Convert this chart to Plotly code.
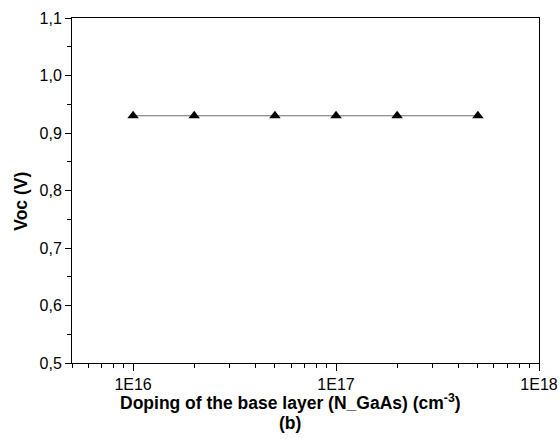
import plotly.graph_objects as go

doping = [1e16, 2e16, 5e16, 1e17, 2e17, 5e17]
voc = [0.93, 0.93, 0.93, 0.93, 0.93, 0.93]

x_tickvals = [1e16, 1e17, 1e18]
x_ticktext = ["1E16", "1E17", "1E18"]
y_tickvals = [0.5, 0.6, 0.7, 0.8, 0.9, 1.0, 1.1]
y_ticktext = ["0,5", "0,6", "0,7", "0,8", "0,9", "1,0", "1,1"]

x_minor = [m * 10 ** e for e in (15, 16, 17) for m in range(2, 10) if 5e15 <= m * 10 ** e < 1e18]
y_minor = [0.55, 0.65, 0.75, 0.85, 0.95, 1.05]

fig = go.Figure()
fig.add_trace(go.Scatter(
    x=doping, y=voc, mode="lines+markers",
    line=dict(color="#6e6e6e", width=1),
    marker=dict(symbol="triangle-up", size=10, color="black"),
    showlegend=False,
))

tick_font = dict(family="Liberation Sans, Arial, sans-serif", size=16, color="black")
title_font = dict(family="Liberation Sans, Arial, sans-serif", size=17.5, color="black")

fig.update_layout(
    width=560, height=439,
    margin=dict(l=72, r=21, t=18, b=76),
    plot_bgcolor="white", paper_bgcolor="white",
    font=tick_font,
    xaxis=dict(
        type="log", range=[15.69897, 18], automargin=False,
        tickmode="array", tickvals=x_tickvals, ticktext=x_ticktext,
        ticks="outside", ticklen=7, tickwidth=1, tickcolor="black",
        minor=dict(tickmode="array", tickvals=x_minor, ticks="outside", ticklen=4, tickcolor="black", tickwidth=1),
        showline=True, linecolor="black", linewidth=1, mirror=True,
        showgrid=False, zeroline=False,
        tickfont=tick_font,
    ),
    yaxis=dict(
        range=[0.5, 1.1], automargin=False,
        tickmode="array", tickvals=y_tickvals, ticktext=y_ticktext,
        ticks="outside", ticklen=6, tickwidth=1, tickcolor="black",
        minor=dict(tickmode="array", tickvals=y_minor, ticks="outside", ticklen=4, tickcolor="black", tickwidth=1),
        showline=True, linecolor="black", linewidth=1, mirror=True,
        showgrid=False, zeroline=False,
        tickfont=tick_font,
    ),
    annotations=[
        dict(text="<b>Voc (V)</b>", textangle=-90,
             xref="paper", yref="paper", x=-0.111, y=0.468, xanchor="center", yanchor="middle",
             showarrow=False, font=title_font),
        dict(text="<b>Doping of the base layer (N_GaAs) (cm<sup>-3</sup>)</b>",
             xref="paper", yref="paper", x=0.467, y=-0.114, xanchor="center", yanchor="middle",
             showarrow=False, font=title_font),
        dict(text="<b>(b)</b>",
             xref="paper", yref="paper", x=0.467, y=-0.174, xanchor="center", yanchor="middle",
             showarrow=False, font=title_font),
    ],
)

fig.write_html("out.html", config={"displayModeBar": False},
               post_script="document.body.style.margin='0';document.body.style.overflow='hidden';")
